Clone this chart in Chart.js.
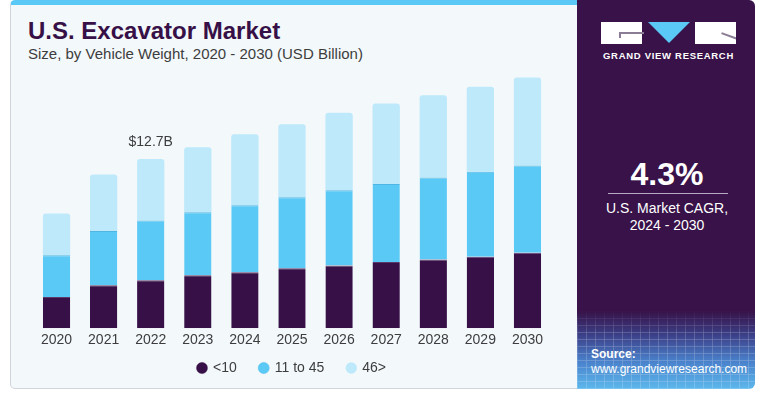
<!DOCTYPE html>
<html>
<head>
<meta charset="utf-8">
<script src="https://cdn.jsdelivr.net/npm/chart.js@4.4.1/dist/chart.umd.min.js"></script>
<style>
  html, body { margin: 0; padding: 0; background: #ffffff; }
  body { width: 763px; height: 393px; position: relative; overflow: hidden; font-family: "Liberation Sans", Arial, sans-serif; }
  .card {
    position: absolute; left: 10px; top: 0; width: 580px; height: 383px;
    background: #f3f8fb; border: 1px solid #cfd5da; border-top: 5px solid #5bc9f5;
    border-radius: 5px 0 0 5px;
  }
  .title { position: absolute; left: 28px; top: 17px; font-size: 24px; font-weight: bold; color: #361046; }
  .subtitle { position: absolute; left: 28px; top: 45px; font-size: 15px; color: #3d3d3d; }
  #wrap { position: absolute; left: 0; top: 0; width: 577px; height: 400px; }
  .side {
    position: absolute; left: 577px; top: 0; width: 178px; height: 389px;
    background: linear-gradient(180deg, #381248 0%, #381248 80%, #3b3f87 86%, #4a82cc 93%, #5cb8ec 100%);
    border-radius: 0 6px 6px 0; overflow: hidden;
  }
  .grid {
    position: absolute; left: 0; top: 310px; width: 178px; height: 79px; opacity: 0.3;
    background-image: repeating-linear-gradient(90deg, rgba(255,255,255,0.6) 0 1px, transparent 1px 9px),
                      repeating-linear-gradient(0deg, rgba(255,255,255,0.6) 0 1px, transparent 1px 7px);
    -webkit-mask-image: linear-gradient(180deg, transparent 0%, #000 30%);
    mask-image: linear-gradient(180deg, transparent 0%, #000 30%);
  }
  .r1 { position: absolute; left: 24px; top: 22px; width: 41px; height: 22px; background: #fff; }
  .r1 i { position: absolute; left: 18px; top: 10px; width: 23px; height: 4px; border-top: 2px solid #8a7d95; border-left: 2px solid #8a7d95; }
  .tri { position: absolute; left: 71px; top: 22px; width: 0; height: 0; border-left: 21px solid transparent; border-right: 21px solid transparent; border-top: 21px solid #5bc9f5; }
  .r3 { position: absolute; left: 118px; top: 22px; width: 41px; height: 22px; background: #fff; overflow: hidden; }
  .r3 i { position: absolute; left: 26px; top: 13px; width: 17px; height: 2px; background: #8a7d95; transform: rotate(20deg); }
  .brand { position: absolute; left: 22px; top: 50px; width: 139px; text-align: center; font-size: 9.5px; font-weight: bold; color: #fff; letter-spacing: 0.7px; }
  .cagr { position: absolute; left: 0; top: 156px; width: 180px; text-align: center; font-size: 32px; font-weight: bold; color: #fff; }
  .rule { position: absolute; left: 31px; top: 193px; width: 120px; height: 1px; background: #b7a9c4; }
  .cagr-txt { position: absolute; left: 0; top: 200px; width: 180px; text-align: center; font-size: 14px; line-height: 17px; color: #fff; }
  .src { position: absolute; left: 14px; top: 347px; font-size: 12px; line-height: 15px; color: #fff; }
</style>
</head>
<body>
<div class="card"></div>
<div class="title">U.S. Excavator Market</div>
<div class="subtitle">Size, by Vehicle Weight, 2020 - 2030 (USD Billion)</div>
<div id="wrap"><canvas id="chart"></canvas></div>
<div class="side">
  <div class="grid"></div>
  <div class="r1"><i></i></div>
  <div class="tri"></div>
  <div class="r3"><i></i></div>
  <div class="brand">GRAND VIEW RESEARCH</div>
  <div class="cagr">4.3%</div>
  <div class="rule"></div>
  <div class="cagr-txt">U.S. Market CAGR,<br>2024 - 2030</div>
  <div class="src"><b>Source:</b><br>www.grandviewresearch.com</div>
</div>
<script>
const years = ['2020', '2021', '2022', '2023', '2024', '2025', '2026', '2027', '2028', '2029', '2030'];
const under10 = [2.35, 3.23, 3.61, 3.98, 4.21, 4.51, 4.71, 4.98, 5.16, 5.36, 5.66];
const from11to45 = [3.13, 4.08, 4.49, 4.73, 5.03, 5.33, 5.66, 5.86, 6.16, 6.39, 6.57];
const over46 = [3.13, 4.24, 4.61, 4.88, 5.33, 5.48, 5.81, 6.04, 6.18, 6.39, 6.61];
const seriesNames = ['<10', '11 to 45', '46>'];
const calloutYear = '2022';
const calloutText = '$12.7B';

// label above the 2022 stack
const callout = {
    id: 'callout',
    afterDatasetsDraw(chart) {
        const meta = chart.getDatasetMeta(2);
        const bar = meta.data[years.indexOf(calloutYear)];
        const ctx = chart.ctx;
        ctx.save();
        ctx.font = '14px "Liberation Sans", Arial, sans-serif';
        ctx.fillStyle = '#3d3d3d';
        ctx.textAlign = 'center';
        ctx.textBaseline = 'middle';
        ctx.fillText(calloutText, bar.x, bar.y - 17);
        ctx.restore();
    }
};

// pull the legend a bit closer to the year labels
const legendNudge = {
    id: 'legendNudge',
    afterLayout(chart) {
        chart.legend.top -= 15;
        chart.legend.bottom -= 15;
    }
};

const ctx = document.getElementById('chart').getContext('2d');
new Chart(ctx, {
    type: 'bar',
    data: {
        labels: years,
        datasets: [{
            label: seriesNames[0],
            data: under10,
            backgroundColor: '#361046',
            borderColor: '#5a3a6b',
            borderWidth: { top: 1 },
            borderSkipped: false
        }, {
            label: seriesNames[1],
            data: from11to45,
            backgroundColor: '#5bc9f5',
            borderColor: '#4fb6e3',
            borderWidth: { top: 1 },
            borderSkipped: false
        }, {
            label: seriesNames[2],
            data: over46,
            backgroundColor: '#bde9fa',
            borderRadius: { topLeft: 3, topRight: 3 },
            borderSkipped: 'bottom'
        }]
    },
    options: {
        responsive: true,
        maintainAspectRatio: false,
        animation: false,
        datasets: {
            bar: { categoryPercentage: 0.58, barPercentage: 1 }
        },
        layout: {
            padding: { left: 33, right: 26, top: 62, bottom: 0 }
        },
        scales: {
            x: {
                stacked: true,
                grid: { display: false, drawTicks: false },
                border: { display: false },
                ticks: {
                    color: '#3d3d3d',
                    padding: 4,
                    font: { family: '"Liberation Sans", Arial, sans-serif', size: 14 }
                }
            },
            y: {
                stacked: true,
                display: false,
                min: 0,
                max: 20
            }
        },
        plugins: {
            legend: {
                position: 'bottom',
                labels: {
                    usePointStyle: true,
                    pointStyle: 'circle',
                    boxWidth: 8,
                    boxHeight: 8,
                    padding: 23,
                    color: '#3d3d3d',
                    font: { family: '"Liberation Sans", Arial, sans-serif', size: 14 }
                }
            },
            tooltip: { enabled: false }
        }
    },
    plugins: [callout, legendNudge]
});
</script>
</body>
</html>
